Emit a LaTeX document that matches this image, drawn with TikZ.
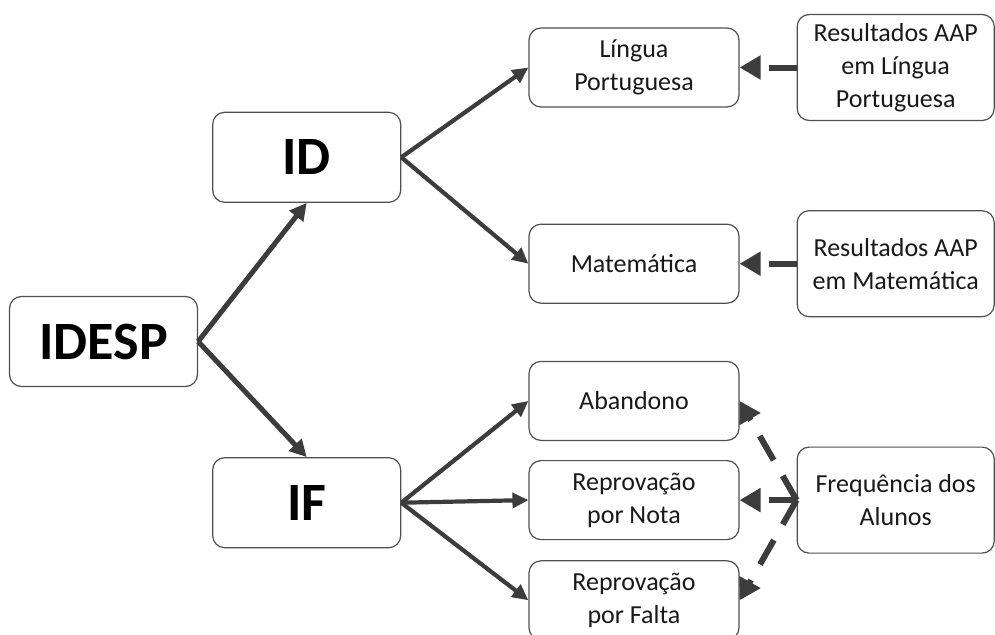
\documentclass[tikz,border=0pt]{standalone}
\usepackage{fontspec}
\setmainfont{Carlito}
\usetikzlibrary{arrows.meta, positioning}
\definecolor{boxgray}{HTML}{505050}
\definecolor{arrowgray}{HTML}{3C3C3C}

\begin{document}
\begin{tikzpicture}[x=1pt, y=-1pt,
						box/.style={draw=boxgray, line width=1.2pt, rounded corners=12pt, fill=white, minimum width=210pt, minimum height=79pt, align=center, text=black!90, font=\fontsize{26}{33}\selectfont},
						bigbox/.style={box, minimum width=188pt, minimum height=90pt, text=black, font=\fontsize{54}{60}\selectfont\bfseries},
						srcbox/.style={box, minimum width=197pt, minimum height=106pt},
						trunk/.style={line width=5pt, -{Triangle[length=17pt, width=17pt]}},
						feed/.style={line width=6pt, dash pattern=on 28pt off 18pt, -{Triangle[length=21pt, width=23pt]}},
						every edge/.append style={draw=arrowgray, line width=4.2pt, -{Triangle[length=16pt, width=15pt]}},]
		\clip (0,0) rectangle (995,634);
		\node (idesp) [bigbox] at (103.5,341.5) {IDESP};
		\node (id) [bigbox, above right=93pt and 14pt of idesp] {ID};
		\node (if) [bigbox, below right=70pt and 14pt of idesp] {IF};
		\node (lp) [box] at (634,67.5) {Língua\\Portuguesa};
		\node (mat) [box, below=116pt of lp] {Matemática};
		\node (aband) [box, below=57pt of mat] {Abandono};
		\node (nota) [box, below=19pt of aband] {Reprovação\\por Nota};
		\node (falta) [box, below=20pt of nota] {Reprovação\\por Falta};
		\node (reslp) [srcbox, right=57pt of lp] {Resultados AAP\\em Língua\\Portuguesa};
		\node (resmat) [srcbox, right=57pt of mat] {Resultados AAP\\em Matemática};
		\node (freq) [srcbox, right=57pt of nota] {Frequência dos\\Alunos};


		\path 	(idesp.east)	edge[trunk]	(id.south)
				(idesp.east)	edge[trunk]	(if.north)
				(id.east)		edge	(lp.west)
				(id.east)		edge	(mat.west)
				(if.east)		edge	(aband.west)
				(if.east)		edge	(nota.west)
				(if.east)		edge	(falta.west)
				(reslp.west)	edge[feed]	(lp.east)
				(resmat.west)	edge[feed]	(mat.east)
				(freq.west)		edge[feed]	(aband.east)
				(freq.west)		edge[feed]	(nota.east)
				(freq.west)		edge[feed]	(falta.east);
	\end{tikzpicture}
\end{document}
